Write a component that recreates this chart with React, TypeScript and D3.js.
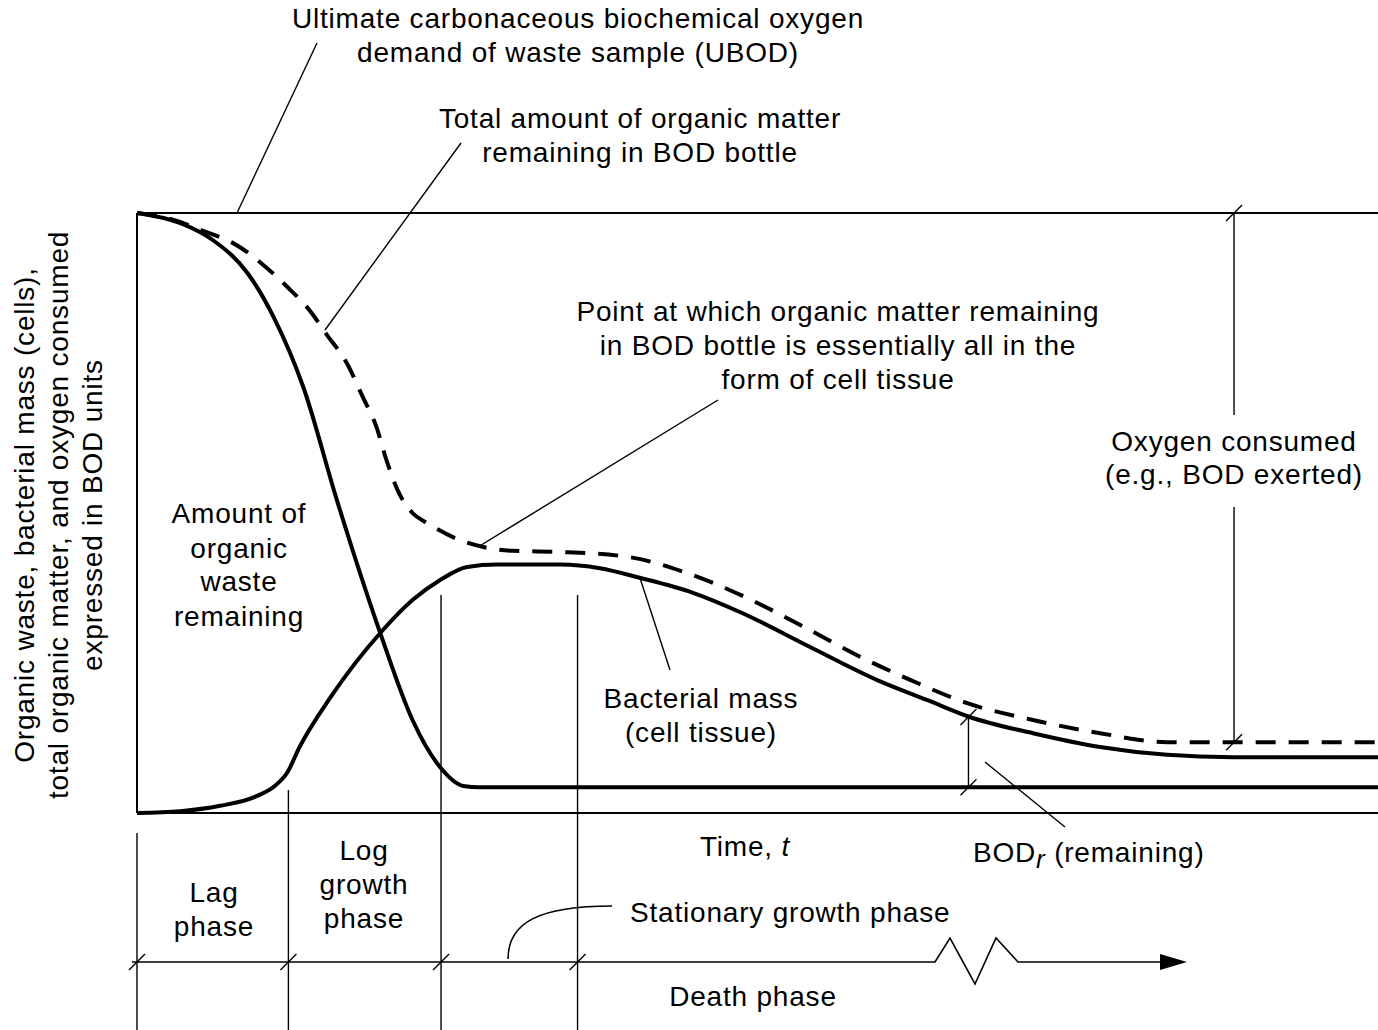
import * as d3 from "d3";

const width = 1378;
const height = 1030;

// time in arbitrary units, amounts in % of UBOD
const wasteRemaining: [number, number][] = [
  [0, 100], [0.35, 98.3], [0.61, 95.5], [0.89, 90], [1.1, 82.7], [1.34, 71],
  [1.61, 52.2], [1.96, 30], [2.22, 15.5], [2.44, 7.7], [2.63, 4.5],
  [2.76, 4.3], [10, 4.3]
];

const totalOrganic: [number, number][] = [
  [0, 100], [0.27, 99], [0.51, 97.2], [0.83, 94.3], [1.02, 91.3], [1.21, 87.7],
  [1.39, 83.8], [1.53, 79.7], [1.69, 75], [1.82, 69.3], [1.93, 64.3], [2.01, 58.8],
  [2.1, 53.8], [2.22, 50], [2.34, 48.3], [2.6, 45.5], [2.82, 44.2], [3.03, 43.7],
  [3.41, 43.5], [3.95, 42.7], [4.43, 40], [4.92, 35.8], [5.42, 30.5], [5.83, 26],
  [6.23, 22.2], [6.69, 18.3], [7.22, 15.5], [7.76, 13.3], [8.3, 11.8], [10, 11.8]
];

const bacterialMass: [number, number][] = [
  [0, 0], [0.35, 0.3], [0.67, 1.2], [0.95, 2.7], [1.11, 4.5], [1.21, 6.7],
  [1.31, 11], [1.56, 19.3], [1.96, 30], [2.22, 35.5], [2.44, 38.8], [2.66, 41],
  [2.9, 41.4], [3.41, 41.4], [3.73, 40.8], [4.05, 39.2], [4.48, 36.7], [4.88, 33.3],
  [5.42, 27.7], [5.96, 22.2], [6.37, 18.8], [6.71, 16], [7.22, 13.3], [7.76, 11],
  [8.3, 9.7], [8.83, 9.3], [10, 9.3]
];

// phase boundaries on the time axis
const phaseBounds = [0, 1.22, 2.45, 3.55];
const bodRemainingAt = 6.7;
const oxygenConsumedAt = 8.84;

const x = d3.scaleLinear().domain([0, 10]).range([137, 1378]);
const y = d3.scaleLinear().domain([0, 100]).range([813, 213]);

const line = d3
  .line<[number, number]>()
  .x((d) => x(d[0]))
  .y((d) => y(d[1]))
  .curve(d3.curveMonotoneX);

const phaseY = 962;
const font = "'Liberation Sans', Arial, Helvetica, sans-serif";

function slash(px: number, py: number, key: string) {
  return <line key={key} x1={px - 8} y1={py + 8} x2={px + 8} y2={py - 8} stroke="#000" strokeWidth={1.4} />;
}

export default function App() {
  const wasteFloor = wasteRemaining[wasteRemaining.length - 1][1];
  const totalFloor = totalOrganic[totalOrganic.length - 1][1];
  const bodTop = 16;

  const stationary = d3.path();
  stationary.moveTo(508, phaseY - 3);
  stationary.bezierCurveTo(508, 922, 540, 906, 612, 906);

  const zigzag = [
    [x(0) - 5, phaseY], [935, phaseY], [950, 938], [975, 984], [996, 938], [1018, phaseY], [1162, phaseY]
  ];

  return (
    <svg
      width={width}
      height={height}
      viewBox={`0 0 ${width} ${height}`}
      style={{ position: "absolute", left: 0, top: 0, background: "#fff" }}
      fontFamily={font}
      fontSize={28}
      letterSpacing={0.8}
    >
      <rect width={width} height={height} fill="#fff" />

      {/* frame: UBOD line, y axis, time axis */}
      <line x1={x(0)} x2={width} y1={y(100)} y2={y(100)} stroke="#000" strokeWidth={2} />
      <line x1={x(0)} x2={x(0)} y1={y(100)} y2={y(0)} stroke="#000" strokeWidth={2} />
      <line x1={x(0)} x2={width} y1={y(0)} y2={y(0)} stroke="#000" strokeWidth={2} />

      {/* phase dividers */}
      {phaseBounds.map((t, i) => (
        <line
          key={`pb${i}`}
          x1={x(t)}
          x2={x(t)}
          y1={i === 0 ? 833 : i === 1 ? 790 : 595}
          y2={height}
          stroke="#000"
          strokeWidth={1.4}
        />
      ))}

      {/* curves */}
      <path d={line(wasteRemaining) ?? ""} fill="none" stroke="#000" strokeWidth={4} />
      <path d={line(bacterialMass) ?? ""} fill="none" stroke="#000" strokeWidth={4} />
      <path
        d={line(totalOrganic) ?? ""}
        fill="none"
        stroke="#000"
        strokeWidth={4}
        strokeDasharray="20 13"
      />

      {/* BOD remaining marker */}
      <line
        x1={x(bodRemainingAt)}
        x2={x(bodRemainingAt)}
        y1={y(wasteFloor)}
        y2={y(bodTop)}
        stroke="#000"
        strokeWidth={1.4}
      />
      {slash(x(bodRemainingAt), y(wasteFloor), "b1")}
      {slash(x(bodRemainingAt), y(bodTop), "b2")}
      <line x1={985} y1={762} x2={1065} y2={827} stroke="#000" strokeWidth={1.4} />

      {/* oxygen consumed marker */}
      <line x1={x(oxygenConsumedAt)} x2={x(oxygenConsumedAt)} y1={y(100)} y2={415} stroke="#000" strokeWidth={1.4} />
      <line x1={x(oxygenConsumedAt)} x2={x(oxygenConsumedAt)} y1={507} y2={y(totalFloor)} stroke="#000" strokeWidth={1.4} />
      {slash(x(oxygenConsumedAt), y(100), "o1")}
      {slash(x(oxygenConsumedAt), y(totalFloor), "o2")}

      {/* leaders */}
      <line x1={317} y1={43} x2={237} y2={y(100)} stroke="#000" strokeWidth={1.4} />
      <line x1={461} y1={143} x2={325} y2={330} stroke="#000" strokeWidth={1.4} />
      <line x1={718} y1={400} x2={478} y2={547} stroke="#000" strokeWidth={1.4} />
      <line x1={640} y1={578} x2={670} y2={670} stroke="#000" strokeWidth={1.4} />

      {/* phase axis */}
      <polyline points={zigzag.map((p) => p.join(",")).join(" ")} fill="none" stroke="#000" strokeWidth={1.6} />
      <path d={`M1187,${phaseY} L1160,${phaseY - 8} L1160,${phaseY + 8} Z`} fill="#000" />
      {phaseBounds.map((t, i) => slash(x(t), phaseY, `pt${i}`))}
      <path d={stationary.toString()} fill="none" stroke="#000" strokeWidth={1.6} />

      {/* texts */}
      <g textAnchor="middle" fill="#000">
        <text x={578} y={28}>Ultimate carbonaceous biochemical oxygen</text>
        <text x={578} y={62}>demand of waste sample (UBOD)</text>
        <text x={640} y={128}>Total amount of organic matter</text>
        <text x={640} y={162}>remaining in BOD bottle</text>
        <text x={838} y={321}>Point at which organic matter remaining</text>
        <text x={838} y={355}>in BOD bottle is essentially all in the</text>
        <text x={838} y={389}>form of cell tissue</text>
        <text x={1234} y={451}>Oxygen consumed</text>
        <text x={1234} y={484}>(e.g., BOD exerted)</text>
        <text x={239} y={523}>Amount of</text>
        <text x={239} y={558}>organic</text>
        <text x={239} y={591}>waste</text>
        <text x={239} y={626}>remaining</text>
        <text x={701} y={708}>Bacterial mass</text>
        <text x={701} y={742}>(cell tissue)</text>
        <text x={745} y={856}>
          Time, <tspan fontStyle="italic">t</tspan>
        </text>
        <text x={364} y={860}>Log</text>
        <text x={364} y={894}>growth</text>
        <text x={364} y={928}>phase</text>
        <text x={214} y={902}>Lag</text>
        <text x={214} y={936}>phase</text>
        <text x={753} y={1006}>Death phase</text>
        <g transform="translate(0,515) rotate(-90)">
          <text x={0} y={34}>Organic waste, bacterial mass (cells),</text>
          <text x={0} y={68}>total organic matter, and oxygen consumed</text>
          <text x={0} y={102}>expressed in BOD units</text>
        </g>
      </g>
      <text x={630} y={922}>Stationary growth phase</text>
      <text x={973} y={862}>
        BOD
        <tspan fontStyle="italic" fontSize={26} dy={6}>r</tspan>
        <tspan dy={-6}> (remaining)</tspan>
      </text>
    </svg>
  );
}
